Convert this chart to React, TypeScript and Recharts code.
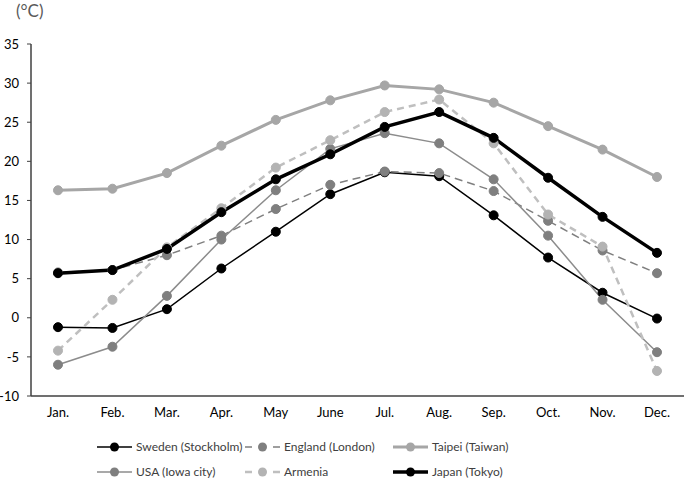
import React from "react";
import { LineChart, Line, XAxis, YAxis } from "recharts";

const months = ["Jan.", "Feb.", "Mar.", "Apr.", "May", "June", "Jul.", "Aug.", "Sep.", "Oct.", "Nov.", "Dec."];
const sweden = [-1.2, -1.3, 1.1, 6.3, 11.0, 15.8, 18.6, 18.1, 13.1, 7.7, 3.2, -0.1];
const england = [5.8, 6.1, 8.0, 10.5, 13.9, 17.0, 18.7, 18.5, 16.2, 12.4, 8.6, 5.7];
const taipei = [16.3, 16.5, 18.5, 22.0, 25.3, 27.8, 29.7, 29.2, 27.5, 24.5, 21.5, 18.0];
const usa = [-6.0, -3.7, 2.8, 10.0, 16.3, 21.6, 23.6, 22.3, 17.7, 10.5, 2.3, -4.4];
const armenia = [-4.2, 2.3, 9.0, 14.0, 19.2, 22.7, 26.3, 27.9, 22.3, 13.2, 9.1, -6.8];
const japan = [5.7, 6.1, 8.8, 13.5, 17.7, 20.9, 24.4, 26.3, 23.0, 17.9, 12.9, 8.3];
const yTicks = [-10, -5, 0, 5, 10, 15, 20, 25, 30, 35];

const data = months.map((m, i) => ({
  month: m,
  sweden: sweden[i],
  england: england[i],
  taipei: taipei[i],
  usa: usa[i],
  armenia: armenia[i],
  japan: japan[i],
}));

const series = [
  { key: "sweden", name: "Sweden (Stockholm)", color: "#000000", width: 1.5, dash: undefined, dot: "#000000" },
  { key: "england", name: "England (London)", color: "#7f7f7f", width: 1.5, dash: "8 5", dot: "#7f7f7f" },
  { key: "taipei", name: "Taipei (Taiwan)", color: "#a6a6a6", width: 3, dash: undefined, dot: "#a6a6a6" },
  { key: "usa", name: "USA (Iowa city)", color: "#8c8c8c", width: 1.5, dash: undefined, dot: "#7f7f7f" },
  { key: "armenia", name: "Armenia", color: "#bfbfbf", width: 2.5, dash: "7 5", dot: "#b3b3b3" },
  { key: "japan", name: "Japan (Tokyo)", color: "#000000", width: 3.5, dash: undefined, dot: "#000000" },
];

const font = "Lato, 'Open Sans', sans-serif";

const LegendBox = () => (
  <div
    style={{
      position: "absolute",
      left: 97,
      top: 437,
      display: "grid",
      gridTemplateColumns: "148px 148px 160px",
      rowGap: 6,
      fontFamily: font,
      fontSize: 12,
      color: "#404040",
      whiteSpace: "nowrap",
    }}
  >
    {series.map((s) => (
      <div key={s.key} style={{ display: "flex", alignItems: "center", height: 19 }}>
        <svg width={35} height={12} style={{ marginRight: 4 }}>
          <line
            x1={0}
            y1={6}
            x2={35}
            y2={6}
            stroke={s.color}
            strokeWidth={s.width}
            strokeDasharray={s.dash ? "7 7" : undefined}
          />
          <circle cx={17.5} cy={6} r={4.5} fill={s.dot} />
        </svg>
        <span>{s.name}</span>
      </div>
    ))}
  </div>
);

export default function App() {
  return (
    <div style={{ position: "absolute", left: 0, top: 0, width: 685, height: 481, background: "#fff" }}>
      <div
        style={{
          position: "absolute",
          left: 16,
          top: 0,
          fontFamily: font,
          fontSize: 17,
          lineHeight: "22px",
          color: "#595959",
        }}
      >
        (°C)
      </div>
      <LineChart width={685} height={481} data={data} margin={{ top: 44, right: 1, left: 0, bottom: 55 }}>
        <XAxis
          dataKey="month"
          axisLine={{ stroke: "#404040", strokeWidth: 1.5 }}
          tickLine={false}
          interval={0}
          padding={{ left: 27, right: 27 }}
          tick={{ fontSize: 13, fill: "#000", fontFamily: font }}
          tickMargin={6}
          height={30}
        />
        <YAxis
          domain={[-10, 35]}
          ticks={yTicks}
          interval={0}
          width={31}
          axisLine={{ stroke: "#404040", strokeWidth: 1.5 }}
          tickLine={{ stroke: "#404040" }}
          tickSize={4}
          tickMargin={8}
          tick={{ fontSize: 13, fill: "#000", fontFamily: font }}
        />
        {series.map((s) => (
          <Line
            key={s.key}
            dataKey={s.key}
            name={s.name}
            stroke={s.color}
            strokeWidth={s.width}
            strokeDasharray={s.dash}
            dot={{ r: 4.5, fill: s.dot, stroke: s.dot, strokeWidth: 1, strokeDasharray: "" }}
            activeDot={false}
            isAnimationActive={false}
          />
        ))}
      </LineChart>
      <LegendBox />
    </div>
  );
}
